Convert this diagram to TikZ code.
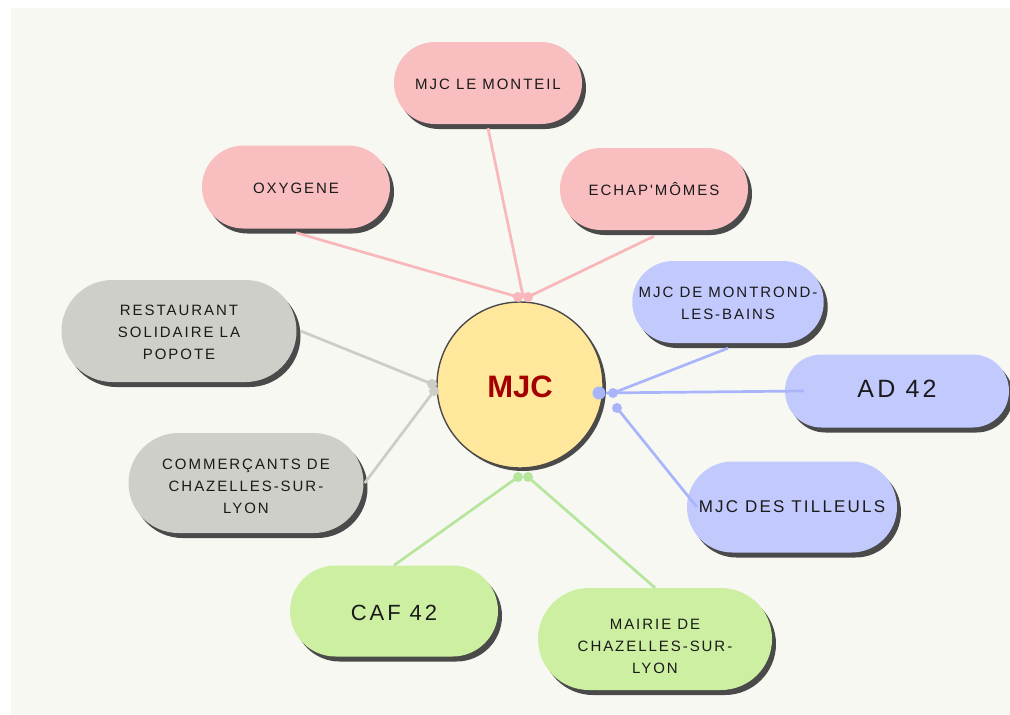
\documentclass[tikz,border=0pt]{standalone}
\usepackage{fontspec}
\usetikzlibrary{shapes.misc,shadows}
\newfontfamily\lbl[LetterSpace=13]{Liberation Sans}
\newfontfamily\boldsans{Liberation Sans}
\definecolor{panel}{HTML}{F8F8F3}
\definecolor{pinkf}{HTML}{F9BEC0}
\definecolor{pinkl}{HTML}{F8B8BB}
\definecolor{grayf}{HTML}{CFCFCA}
\definecolor{grayl}{HTML}{CDCDC8}
\definecolor{bluef}{HTML}{C2CAFD}
\definecolor{bluel}{HTML}{A9B5FB}
\definecolor{greenf}{HTML}{CDEFA1}
\definecolor{greenl}{HTML}{B6E59C}
\definecolor{shad}{HTML}{4A4A4A}
\definecolor{txt}{HTML}{1A1A1A}
\definecolor{yel}{HTML}{FFE89C}
\definecolor{mjcred}{HTML}{A50000}
\newcommand{\dn}[2]{\raisebox{-#1}[\height][\depth]{\begin{tabular}{@{}c@{}}#2\end{tabular}}}
\tikzset{
  pill/.style={rounded rectangle, inner sep=0pt, align=center, text=txt,
    font=\lbl\fontsize{15}{22}\selectfont,
    drop shadow={shadow xshift=4pt, shadow yshift=-5pt, fill=shad, opacity=1}},
  conn/.style={line width=2.7pt},
  dot/.style={circle, inner sep=0pt, minimum size=10pt}
}
\begin{document}
\begin{tikzpicture}[x=1pt,y=-1pt]
\useasboundingbox (0,0) rectangle (1010,715);
\fill[white] (0,0) rectangle (1010,715);
\fill[panel] (11,8) rectangle (1010,715);

% connection points on the centre
\coordinate (p1) at (518,297);
\coordinate (p2) at (523,296);
\coordinate (p3) at (528,297);
\coordinate (g1) at (432,384);
\coordinate (g2) at (434,391);
\coordinate (b0) at (599,393);
\coordinate (b1) at (613,393);
\coordinate (b2) at (617,408);
\coordinate (gr1) at (518,477);
\coordinate (gr2) at (528,477);

% nodes
\node[pill, fill=pinkf, minimum width=188pt, minimum height=82pt] (mont) at (488,83) {\dn{2pt}{MJC LE MONTEIL}};
\node[pill, fill=pinkf, minimum width=188pt, minimum height=83pt] (oxy) at (296,187) {\dn{2pt}{OXYGENE}};
\node[pill, fill=pinkf, minimum width=188pt, minimum height=82pt] (echap) at (654,189) {\dn{2pt}{ECHAP'MÔMES}};
\node[pill, fill=grayf, minimum width=235pt, minimum height=102pt] (resto) at (179,331) {\dn{2pt}{RESTAURANT\\SOLIDAIRE LA\\POPOTE}};
\node[pill, fill=grayf, minimum width=235pt, minimum height=100pt] (comm) at (246,483) {\dn{4pt}{COMMERÇANTS DE\\CHAZELLES-SUR-\\LYON}};
\node[pill, fill=bluef, minimum width=187pt, minimum height=82pt] (montr) at (728,302) {\dn{2pt}{MJC DE MONTROND-\\LES-BAINS}};
\node[pill, fill=bluef, minimum width=224pt, minimum height=73pt, font=\lbl\fontsize{25}{30}\selectfont] (ad) at (897,391) {\dn{0pt}{AD 42}};
\node[pill, fill=bluef, minimum width=210pt, minimum height=91pt, font=\lbl\fontsize{17}{22}\selectfont] (till) at (792,507) {\dn{1pt}{MJC DES TILLEULS}};
\node[pill, fill=greenf, minimum width=208pt, minimum height=91pt, font=\lbl\fontsize{22}{26}\selectfont] (caf) at (394,611) {\dn{4pt}{CAF 42}};
\node[pill, fill=greenf, minimum width=234pt, minimum height=102pt] (mairie) at (655,639) {\dn{8pt}{MAIRIE DE\\CHAZELLES-SUR-\\LYON}};

% connectors
\begin{scope}[conn]
\draw[pinkl] ([yshift=-4pt]oxy.south) -- (p1);
\draw[pinkl] ([yshift=-4pt]mont.south) -- (p2);
\draw[pinkl] ([yshift=-6pt]echap.south) -- (p3);
\draw[grayl] ([xshift=4pt]resto.east) -- (g1);
\draw[grayl] ([xshift=1pt]comm.east) -- (g2);
\draw[bluel] ([yshift=-5pt]montr.south) -- (b1);
\draw[bluel] ([xshift=19pt]ad.west) -- (b0);
\draw[bluel] ([xshift=10pt]till.west) -- (b2);
\draw[greenl] (caf.north) -- (gr1);
\draw[greenl] (mairie.north) -- (gr2);
\end{scope}

% centre
\node[circle, fill=yel, draw=shad, line width=1.4pt, minimum size=166pt, inner sep=0pt,
  drop shadow={shadow xshift=3pt, shadow yshift=-3pt, fill=shad, opacity=1},
  text=mjcred, font=\boldsans\bfseries\fontsize{31}{34}\selectfont] (mjc) at (520,385) {\raisebox{-2pt}[\height][\depth]{MJC}};

% dots
\node[dot, fill=pinkl] (d1) at (p1) {};
\node[dot, fill=pinkl] (d3) at (p3) {};
\node[dot, fill=grayl] (d4) at (g1) {};
\node[dot, fill=grayl] (d5) at (g2) {};
\node[dot, fill=bluel, minimum size=13pt] (d6) at (b0) {};
\node[dot, fill=bluel] (d7) at (b1) {};
\node[dot, fill=bluel] (d8) at (b2) {};
\node[dot, fill=greenl] (d9) at (gr1) {};
\node[dot, fill=greenl] (d10) at (gr2) {};
\end{tikzpicture}
\end{document}
